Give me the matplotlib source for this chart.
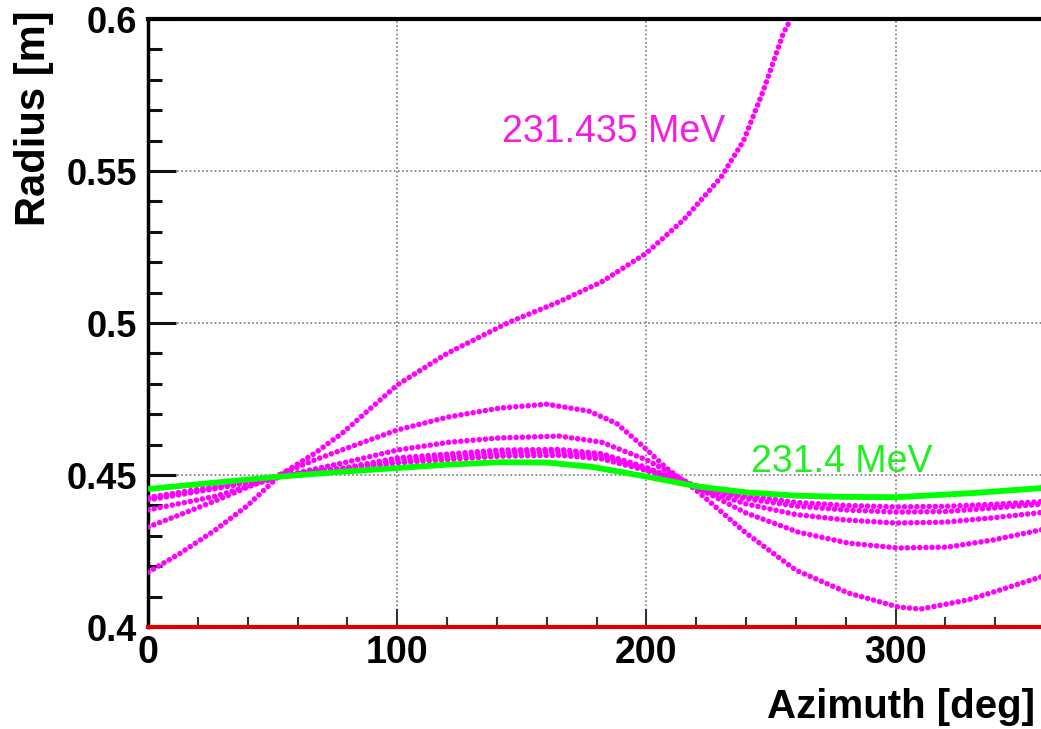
import matplotlib.pyplot as plt
from matplotlib.ticker import MultipleLocator

plt.rcParams['font.family'] = ['Liberation Sans', 'DejaVu Sans']

# tracked orbits: azimuth [deg] vs radius [m]
az_run = [0, 13, 27, 40, 53, 67, 78, 100, 120, 145, 165, 182, 200, 215, 230, 239, 247, 255, 258]
r_run = [0.418, 0.4243, 0.4319, 0.440, 0.450, 0.4572, 0.4638, 0.4796, 0.490, 0.5003, 0.507,
         0.5135, 0.523, 0.534, 0.548, 0.560, 0.5766, 0.5954, 0.600]

az_a = [0, 13, 27, 40, 53, 67, 80, 100, 120, 141, 160, 177, 188, 199, 208, 220, 240, 260, 281,
        301, 310, 329, 342, 358, 360]
r_a = [0.4329, 0.437, 0.4415, 0.446, 0.4502, 0.455, 0.4589, 0.4648, 0.469, 0.472, 0.4733, 0.4710,
       0.467, 0.4592, 0.4523, 0.445, 0.4309, 0.4187, 0.4112, 0.4066, 0.4059, 0.4089, 0.4122,
       0.4164, 0.417]

az_b = [0, 27, 53, 80, 100, 121, 141, 165, 182, 200, 220, 240, 261, 281, 301, 321, 339, 358, 360]
r_b = [0.4385, 0.443, 0.4495, 0.4543, 0.4582, 0.4608, 0.4622, 0.4628, 0.4608, 0.455, 0.446,
       0.4375, 0.4312, 0.4276, 0.426, 0.4263, 0.4286, 0.4319, 0.4322]

az_c = [0, 27, 53, 80, 100, 141, 165, 182, 200, 220, 240, 260, 280, 300, 320, 340, 360]
r_c = [0.4418, 0.4455, 0.4495, 0.4525, 0.4556, 0.4582, 0.4584, 0.457, 0.4525, 0.4458, 0.4405,
       0.437, 0.4352, 0.4342, 0.4345, 0.436, 0.4378]

az_d = [0, 27, 53, 80, 100, 141, 165, 182, 200, 220, 240, 260, 280, 300, 320, 340, 360]
r_d = [0.4422, 0.4458, 0.4495, 0.4522, 0.4548, 0.4572, 0.4575, 0.4562, 0.452, 0.4462, 0.4422,
       0.4398, 0.4385, 0.4378, 0.438, 0.4392, 0.4405]

az_e = [0, 27, 53, 80, 100, 141, 165, 182, 200, 220, 240, 260, 280, 300, 320, 340, 360]
r_e = [0.4426, 0.4462, 0.4495, 0.4518, 0.454, 0.4562, 0.4565, 0.4553, 0.4515, 0.4464, 0.4432,
       0.441, 0.44, 0.4395, 0.4397, 0.4404, 0.4413]

az_g = [0, 27, 53, 80, 100, 120, 141, 160, 178, 200, 220, 240, 260, 280, 300, 330, 360]
r_g = [0.4454, 0.4475, 0.4495, 0.4512, 0.4523, 0.4534, 0.4542, 0.4541, 0.4527, 0.4495, 0.4463,
       0.4443, 0.4432, 0.4428, 0.4427, 0.444, 0.4458]

magenta_runs = [(az_run, r_run), (az_a, r_a), (az_b, r_b), (az_c, r_c), (az_d, r_d), (az_e, r_e)]

fig = plt.figure(figsize=(10.41, 7.29), dpi=100)
ax = fig.add_axes([0.1422, 0.1399, 0.8617, 0.834])

for az, r in magenta_runs:
    ax.plot(az, r, color='#ff00ff', lw=4, linestyle=(0, (0.01, 1.1)),
            dash_capstyle='round', zorder=3)
ax.plot(az_g, r_g, color='#00ff00', lw=4.2, solid_capstyle='butt', zorder=4)

ax.text(142.2, 0.5595, '231.435 MeV', color='#f21ee6', fontsize=27, ha='left', va='baseline')
ax.text(241.8, 0.451, '231.4 MeV', color='#22ee22', fontsize=27, ha='left', va='baseline')

ax.set_xlim(0, 360)
ax.set_ylim(0.4, 0.6)
ax.xaxis.set_major_locator(MultipleLocator(100))
ax.xaxis.set_minor_locator(MultipleLocator(20))
ax.yaxis.set_minor_locator(MultipleLocator(0.01))
ax.set_yticks([0.4, 0.45, 0.5, 0.55, 0.6])
ax.set_yticklabels(['0.4', '0.45', '0.5', '0.55', '0.6'])

ax.grid(True, which='major', color='#777777', lw=1.2, linestyle=(0, (1, 1.5)))
ax.set_axisbelow(True)

ax.tick_params(axis='y', which='major', direction='in', length=20, width=2.2, color='#111111',
               labelsize=26, pad=8)
ax.tick_params(axis='y', which='minor', direction='in', length=10, width=2.2, color='#111111')
ax.tick_params(axis='x', which='major', direction='in', length=13, width=1.5, color='#333333',
               labelsize=27, pad=6)
ax.tick_params(axis='x', which='minor', direction='in', length=7, width=1.5, color='#333333')
for lbl in ax.get_xticklabels() + ax.get_yticklabels():
    lbl.set_fontweight('bold')

ax.spines['right'].set_visible(False)
ax.spines['left'].set_linewidth(2.5)
ax.spines['top'].set_linewidth(3)
ax.spines['bottom'].set_color('#6a8a8a')
ax.spines['bottom'].set_linewidth(2)
ax.axhline(0.4, color='#e00000', lw=3, zorder=5, clip_on=False)

fig.text(1035 / 1041, 11 / 729, 'Azimuth [deg]', fontsize=29, fontweight='bold',
         ha='right', va='baseline')
fig.text(34 / 1041, 1 - 10 / 729, 'Radius [m]', fontsize=30, fontweight='bold',
         rotation=90, ha='center', va='top')

fig.savefig('out.png', dpi=100)
